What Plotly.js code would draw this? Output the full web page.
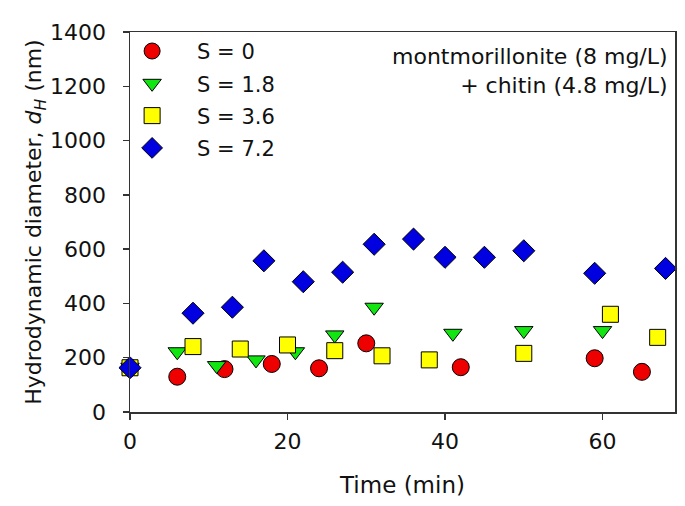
<!DOCTYPE html>
<html>
<head>
<meta charset="utf-8">
<script src="https://cdn.plot.ly/plotly-3.0.1.min.js"></script>
<style>html,body{margin:0;padding:0;background:#fff;}#chart{width:685px;height:506px;}</style>
</head>
<body>
<div id="chart"></div>
<script>
// Data
const seriesNames = ["S = 0", "S = 1.8", "S = 3.6", "S = 7.2"];

const timeS0 = [0, 6, 12, 18, 24, 30, 42, 59, 65];
const dhS0   = [163, 130, 158, 177, 161, 253, 165, 198, 148];

const timeS18 = [0, 6, 11, 16, 21, 26, 31, 41, 50, 60];
const dhS18   = [165, 222, 171, 192, 222, 284, 386, 290, 300, 300];

const timeS36 = [0, 8, 14, 20, 26, 32, 38, 50, 61, 67];
const dhS36   = [163, 241, 232, 247, 226, 207, 192, 216, 360, 275];

const timeS72 = [0, 8, 13, 17, 22, 27, 31, 36, 40, 45, 50, 59, 68];
const dhS72   = [163, 364, 386, 557, 480, 515, 618, 637, 570, 570, 594, 511, 529];

const xTicks = [0, 20, 40, 60];
const yTicks = [0, 200, 400, 600, 800, 1000, 1200, 1400];

const FONT = "DejaVu Sans, Liberation Sans, Arial, sans-serif";

function mk(x, y, name, symbol, color, size) {
  return {
    x: x, y: y, name: name, legendgroup: name, type: "scatter", mode: "markers",
    cliponaxis: false,
    marker: {symbol: symbol, color: color, size: size, line: {color: "#000", width: 1}}
  };
}

const data = [
  mk(timeS0, dhS0, seriesNames[0], "circle", "#ee0000", 17),
  mk(timeS18, dhS18, seriesNames[1], "triangle-down", "#11e611", 16),
  mk(timeS36, dhS36, seriesNames[2], "square", "#ffff00", 16),
  mk(timeS72, dhS72, seriesNames[3], "diamond", "#0000e0", 17)
];

const layout = {
  width: 685, height: 506,
  margin: {l: 130, r: 10, t: 32, b: 94},
  paper_bgcolor: "#fff", plot_bgcolor: "#fff",
  font: {family: FONT, color: "#111", size: 21},
  showlegend: true,
  legend: {
    x: -0.042, xanchor: "left", y: 1.003, yanchor: "top",
    bgcolor: "rgba(0,0,0,0)", borderwidth: 0,
    font: {family: FONT, size: 21, color: "#111"},
    itemwidth: 80, traceorder: "grouped", tracegroupgap: 2
  },
  xaxis: {
    range: [0, 69.2], tickvals: xTicks, ticktext: xTicks.map(String),
    ticks: "outside", ticklen: 6, tickwidth: 1.5, tickcolor: "#333",
    showline: true, linecolor: "#333", linewidth: 1.5, mirror: true,
    showgrid: false, zeroline: false,
    tickfont: {family: FONT, size: 22, color: "#111"},
    ticklabelstandoff: 3,
    title: {text: "Time (min)", font: {family: FONT, size: 23, color: "#111"}, standoff: 24}
  },
  yaxis: {
    range: [0, 1400], tickvals: yTicks, ticktext: yTicks.map(String),
    ticks: "outside", ticklen: 6, tickwidth: 1.5, tickcolor: "#333",
    showline: true, linecolor: "#333", linewidth: 1.5, mirror: true,
    showgrid: false, zeroline: false,
    tickfont: {family: FONT, size: 22, color: "#111"},
    ticklabelstandoff: 12,
    title: {text: "Hydrodynamic diameter, <i>d<sub>H</sub></i> (nm)", font: {family: FONT, size: 22, color: "#111"}, standoff: 0}
  },
  annotations: [{
    xref: "paper", yref: "paper", x: 0.99, y: 0.975, xanchor: "right", yanchor: "top",
    align: "right", showarrow: false,
    text: "montmorillonite (8 mg/L)<br>+ chitin (4.8 mg/L)",
    font: {family: FONT, size: 22, color: "#111"}
  }]
};

Plotly.newPlot("chart", data, layout, {displayModeBar: false, staticPlot: true});
</script>
</body>
</html>
